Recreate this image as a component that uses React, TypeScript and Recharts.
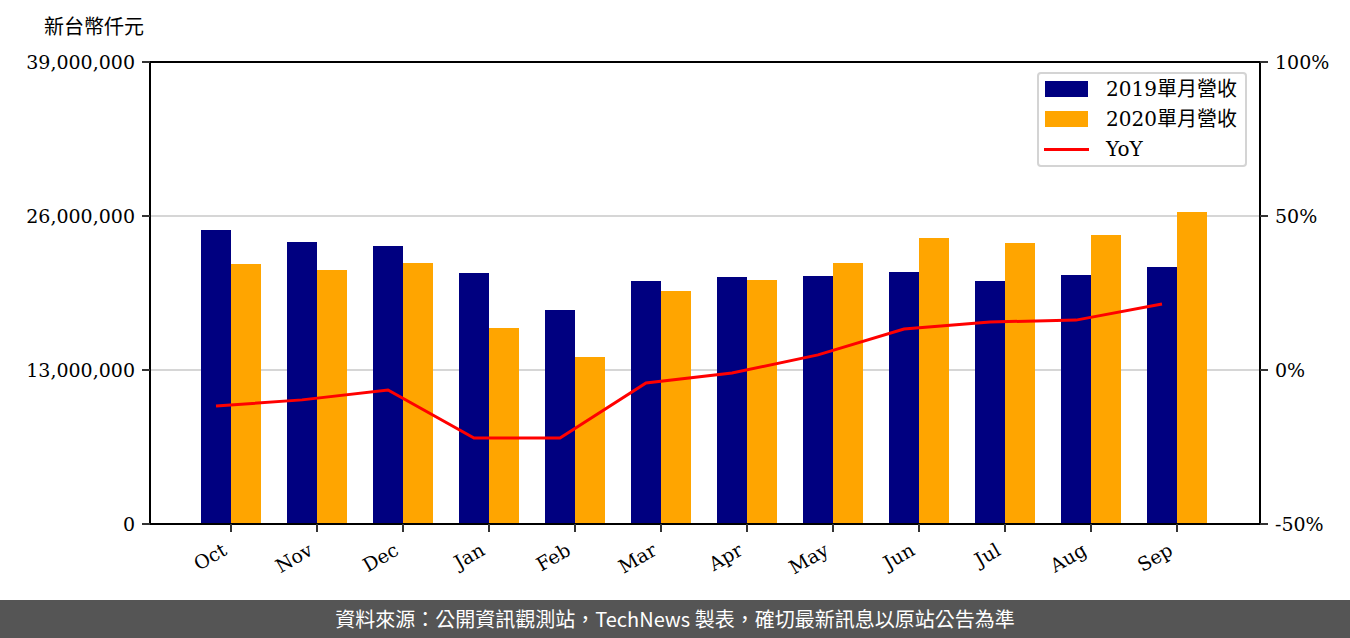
import React from 'react';
import { ComposedChart, Bar, Line, XAxis, YAxis, CartesianGrid, ReferenceLine } from 'recharts';

const months = ['Oct', 'Nov', 'Dec', 'Jan', 'Feb', 'Mar', 'Apr', 'May', 'Jun', 'Jul', 'Aug', 'Sep'];
const rev2019 = [24820000, 23810000, 23470000, 21190000, 18070000, 20510000, 20850000, 20940000, 21270000, 20510000, 21020000, 21690000];
const rev2020 = [21950000, 21440000, 22030000, 16550000, 14100000, 19670000, 20600000, 22030000, 24140000, 23720000, 24400000, 26340000];
const yoy = [-11.7, -9.7, -6.5, -22.1, -22.1, -4.2, -1.0, 4.9, 13.3, 15.6, 16.2, 21.4];

const leftTicks = [0, 13000000, 26000000, 39000000];
const rightTicks = [-50, 0, 50, 100];

const FONT = "'DejaVu Serif', 'Noto Sans CJK TC', serif";

const data = months.map((m, i) => ({
  month: m,
  r2019: rev2019[i],
  r2020: rev2020[i],
  yoy: yoy[i],
}));

// rotated month labels, end of text sits just left of the tick
const MonthTick = ({ x, y, payload }: any) => {
  const tx = x - 3;
  const ty = y + 20;
  return (
    <text
      x={tx}
      y={ty}
      textAnchor="end"
      fontSize={19}
      fontFamily={FONT}
      fill="#000"
      transform={`rotate(-30, ${tx}, ${ty})`}
    >
      {payload.value}
    </text>
  );
};

const legendRows = [
  { label: '2019單月營收', color: '#000080', kind: 'bar' },
  { label: '2020單月營收', color: '#FFA500', kind: 'bar' },
  { label: 'YoY', color: '#FF0000', kind: 'line' },
];

const App = () => {
  const tickStyle = { fontSize: 19, fontFamily: FONT, fill: '#000' };

  return (
    <div style={{ position: 'absolute', left: 0, top: 0, width: 1350, height: 638, background: '#fff', overflow: 'hidden' }}>
      <div style={{ position: 'absolute', left: 44, top: 15, fontSize: 20, fontFamily: FONT, color: '#000', lineHeight: '24px' }}>
        新台幣仟元
      </div>

      <ComposedChart
        width={1350}
        height={600}
        data={data}
        margin={{ top: 62, right: 0, bottom: 0, left: 0 }}
        barGap={0}
      >
        <CartesianGrid xAxisId="bar" yAxisId="left" vertical={false} stroke="#d6d6d6" strokeWidth={2} />
        <XAxis
          xAxisId="bar"
          dataKey="month"
          interval={0}
          height={76}
          padding={{ left: 38, right: 40 }}
          tickSize={8}
          axisLine={{ stroke: '#000', strokeWidth: 2 }}
          tickLine={{ stroke: '#333', strokeWidth: 2 }}
          tick={<MonthTick />}
        />
        <XAxis xAxisId="line" dataKey="month" hide height={0} padding={{ left: 23, right: 55 }} />
        <YAxis
          yAxisId="left"
          width={150}
          domain={[0, 39000000]}
          ticks={leftTicks}
          interval={0}
          tickSize={8}
          tickMargin={7}
          tick={tickStyle}
          tickFormatter={(v: number) => v.toLocaleString('en-US')}
          axisLine={{ stroke: '#000', strokeWidth: 2 }}
          tickLine={{ stroke: '#333', strokeWidth: 2 }}
        />
        <YAxis
          yAxisId="right"
          orientation="right"
          width={90}
          domain={[-50, 100]}
          ticks={rightTicks}
          interval={0}
          tickSize={8}
          tickMargin={7}
          tick={tickStyle}
          tickFormatter={(v: number) => `${v}%`}
          axisLine={{ stroke: '#000', strokeWidth: 2 }}
          tickLine={{ stroke: '#333', strokeWidth: 2 }}
        />
        <ReferenceLine xAxisId="bar" yAxisId="left" y={39000000} stroke="#000" strokeWidth={2} />
        <Bar xAxisId="bar" yAxisId="left" dataKey="r2019" fill="#000080" barSize={30} isAnimationActive={false} />
        <Bar xAxisId="bar" yAxisId="left" dataKey="r2020" fill="#FFA500" barSize={30} isAnimationActive={false} />
        <Line
          xAxisId="line"
          yAxisId="right"
          dataKey="yoy"
          type="linear"
          stroke="#FF0000"
          strokeWidth={3}
          dot={false}
          isAnimationActive={false}
        />
      </ComposedChart>

      <div
        style={{
          position: 'absolute',
          left: 1037,
          top: 72,
          width: 206,
          height: 91,
          border: '2px solid #d4d4d4',
          borderRadius: 4,
          background: 'rgba(255,255,255,0.85)',
        }}
      >
        {legendRows.map((r, i) => (
          <div key={r.label} style={{ position: 'absolute', left: 0, top: 2 + i * 30, height: 26, width: 206 }}>
            {r.kind === 'bar' ? (
              <div style={{ position: 'absolute', left: 6, top: 5, width: 43, height: 16, background: r.color }} />
            ) : (
              <div style={{ position: 'absolute', left: 5, top: 12, width: 45, height: 3, background: r.color }} />
            )}
            <div style={{ position: 'absolute', left: 67, top: 0, fontSize: 20, fontFamily: FONT, lineHeight: '26px', color: '#000', whiteSpace: 'nowrap' }}>
              {r.label}
            </div>
          </div>
        ))}
      </div>

      <div
        style={{
          position: 'absolute',
          left: 0,
          top: 600,
          width: 1350,
          height: 38,
          background: '#555555',
          color: '#fff',
          fontFamily: "'Noto Sans CJK TC', 'Noto Sans', sans-serif",
          fontSize: 20,
          lineHeight: '38px',
          textAlign: 'center',
        }}
      >
        資料來源：公開資訊觀測站，TechNews 製表，確切最新訊息以原站公告為準
      </div>
    </div>
  );
};

export default App;
